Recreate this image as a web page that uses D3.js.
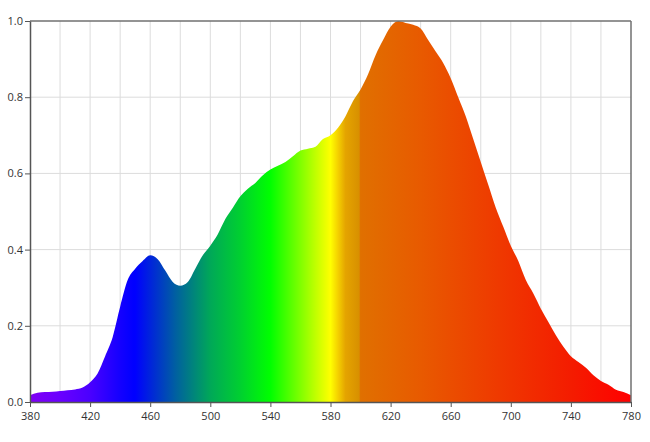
<!DOCTYPE html>
<html><head><meta charset="utf-8">
<script src="https://cdn.jsdelivr.net/npm/d3@7"></script>
<style>body{margin:0;background:#fff}svg{display:block}</style>
</head><body>
<script>
const wavelengths = [380,385,390,395,400,405,410,415,420,425,430,435,440,445,450,455,460,465,470,475,480,485,490,495,500,505,510,515,520,525,530,535,540,545,550,555,560,565,570,575,580,585,590,595,600,605,610,615,620,625,630,635,640,645,650,655,660,665,670,675,680,685,690,695,700,705,710,715,720,725,730,735,740,745,750,755,760,765,770,775,780];
const intensity = [0.018,0.024,0.026,0.027,0.029,0.031,0.033,0.038,0.052,0.075,0.12,0.17,0.25,0.32,0.35,0.37,0.385,0.375,0.345,0.315,0.305,0.315,0.35,0.385,0.41,0.44,0.48,0.51,0.54,0.56,0.575,0.595,0.61,0.62,0.63,0.645,0.66,0.665,0.67,0.69,0.70,0.72,0.75,0.79,0.82,0.86,0.91,0.95,0.985,1.0,0.995,0.99,0.98,0.95,0.92,0.89,0.85,0.80,0.75,0.69,0.63,0.57,0.51,0.46,0.41,0.37,0.32,0.285,0.245,0.21,0.175,0.145,0.12,0.105,0.09,0.07,0.055,0.045,0.032,0.026,0.018];
const xTicks = [380,420,460,500,540,580,620,660,700,740,780];
const xGrid = [400,420,440,460,480,500,520,540,560,580,600,620,640,660,680,700,720,740,760];
const yTicks = [0,0.2,0.4,0.6,0.8,1.0];
const gradStopsNm = [380,400,420,440,449,450,477,500,520,540,560,570,580,585,590,599,600,640,700,740,780];
const gradColors = ["#8000f4","#6a00ff","#4a00ff","#1400ff","#0000ff","#0000ff","#0060a0","#00a858","#00d030","#00ff00","#80ff00","#c0ff00","#ffff00","#f4d000","#e4a400","#d89000","#e07000","#e85a00","#f03400","#f41c00","#ff0000"];

const W=650,H=442, L=30, R=631, T=21, B=402;
const svg=d3.select("body").append("svg").attr("width",W).attr("height",H);
const x=d3.scaleLinear().domain([380,780]).range([L,R]);
const y=d3.scaleLinear().domain([0,1]).range([B,T]);

const defs=svg.append("defs");
const g=defs.append("linearGradient").attr("id","spec").attr("gradientUnits","userSpaceOnUse")
  .attr("x1",x(380)).attr("x2",x(780)).attr("y1",0).attr("y2",0);
gradStopsNm.forEach((nm,i)=>g.append("stop").attr("offset",(nm-380)/400).attr("stop-color",gradColors[i]));

// grid
svg.append("g").selectAll("line").data(xGrid).join("line")
  .attr("x1",d=>x(d)).attr("x2",d=>x(d)).attr("y1",T).attr("y2",B)
  .attr("stroke","#dcdcdc").attr("stroke-width",1);
svg.append("g").selectAll("line").data(yTicks.slice(1,-1)).join("line")
  .attr("x1",L).attr("x2",R).attr("y1",d=>y(d)).attr("y2",d=>y(d))
  .attr("stroke","#dcdcdc").attr("stroke-width",1);

const data=wavelengths.map((w,i)=>({w,v:intensity[i]}));
const area=d3.area().x(d=>x(d.w)).y0(y(0)).y1(d=>y(d.v)).curve(d3.curveMonotoneX);
svg.append("path").datum(data).attr("d",area).attr("fill","url(#spec)");

// frame
svg.append("line").attr("x1",L).attr("x2",R).attr("y1",T).attr("y2",T).attr("stroke","#707070").attr("stroke-width",1.5);
svg.append("line").attr("x1",R).attr("x2",R).attr("y1",T).attr("y2",B).attr("stroke","#707070").attr("stroke-width",1.5);

const xAxis=svg.append("g").attr("transform",`translate(0,${B})`)
  .call(d3.axisBottom(x).tickValues(xTicks).tickFormat(d3.format("d")).tickSize(5).tickSizeOuter(0));
const yAxis=svg.append("g").attr("transform",`translate(${L},0)`)
  .call(d3.axisLeft(y).tickValues(yTicks).tickFormat(d3.format(".1f")).tickSize(5).tickSizeOuter(0));
[xAxis,yAxis].forEach(a=>{
  a.select(".domain").attr("stroke","#555").attr("stroke-width",1.5);
  a.selectAll(".tick line").attr("stroke","#555");
  a.selectAll("text").attr("fill","#333").style("font-family","'Open Sans', sans-serif").style("font-size","11px");
});
xAxis.selectAll("text").attr("dy","0.9em");
yAxis.selectAll("text").attr("x",-7);
</script>
</body></html>
